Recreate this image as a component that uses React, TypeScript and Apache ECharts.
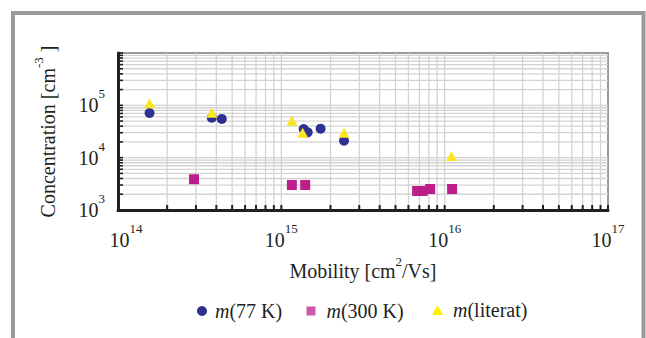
import React, { useEffect, useRef } from 'react';
import * as echarts from 'echarts';

// ---- data ----
const xTicks = [1e14, 1e15, 1e16, 1e17];
const yTicks = [1e3, 1e4, 1e5, 1e6];

const m77: number[][] = [
  [1.56e14, 7.15e4],
  [3.75e14, 5.8e4],
  [4.32e14, 5.5e4],
  [1.37e15, 3.53e4],
  [1.45e15, 3.05e4],
  [1.74e15, 3.58e4],
  [2.42e15, 2.11e4],
];
const m300: number[][] = [
  [2.92e14, 3.87e3],
  [1.16e15, 3.0e3],
  [1.4e15, 3.0e3],
  [6.78e15, 2.31e3],
  [7.33e15, 2.31e3],
  [8.15e15, 2.52e3],
  [1.11e16, 2.52e3],
];
const mLit: number[][] = [
  [1.56e14, 1.09e5],
  [3.75e14, 7.2e4],
  [1.16e15, 5.08e4],
  [1.35e15, 3.0e4],
  [2.42e15, 3.0e4],
  [1.1e16, 1.08e4],
];

const seriesNames = ['m(77 K)', 'm(300 K)', 'm(literat)'];
const legendLabels = ['(77 K)', '(300 K)', '(literat)'];

const FONT = 'Liberation Serif';
const INK = '#231f20';
const NAVY = '#2e3192';
const MAGENTA = '#be1e8c';
const MAGENTA_LEGEND = '#cc5aa6';
const YELLOW = '#fbe51c';

const multipliers = [1, 2, 3, 4, 5, 6, 7, 8, 9];
const xGridVals: number[] = [];
[1e14, 1e15, 1e16].forEach((d) => multipliers.forEach((m) => xGridVals.push(d * m)));
xGridVals.push(1e17);
const yGridVals: number[] = [];
[1e3, 1e4, 1e5].forEach((d) => multipliers.forEach((m) => yGridVals.push(d * m)));
yGridVals.push(1e6);

const exp = (v: number) => Math.round(Math.log10(v));

const legendText = (sp: number) => ({
  fontFamily: FONT,
  fontSize: 20,
  color: INK,
  rich: {
    sp: { width: sp, fontSize: 20 },
    i: { fontFamily: FONT, fontSize: 20, fontStyle: 'italic', color: INK },
    t: { fontFamily: FONT, fontSize: 20, color: INK },
  },
});

export default function App() {
  const ref = useRef<HTMLDivElement>(null);
  useEffect(() => {
    if (!ref.current) return;
    const chart = echarts.init(ref.current, null, { renderer: 'svg' });
    const xMin = xTicks[0];
    const yMin = yTicks[0];

    const option: any = {
      animation: false,
      backgroundColor: '#ffffff',
      textStyle: { fontFamily: FONT, color: INK },
      graphic: [
        {
          type: 'rect',
          silent: true,
          shape: { x: 13, y: 13, width: 630.5, height: 400 },
          style: { fill: 'none', stroke: '#9b9b9b', lineWidth: 4 },
        },
      ],
      grid: {
        left: 118,
        top: 53,
        right: 38,
        bottom: 128,
        show: true,
        borderColor: '#9a9a9a',
        borderWidth: 2,
        backgroundColor: 'transparent',
      },
      xAxis: {
        type: 'log',
        logBase: 10,
        min: xTicks[0],
        max: xTicks[xTicks.length - 1],
        z: 10,
        axisLine: { show: true, lineStyle: { color: INK, width: 3 } },
        axisTick: { show: false },
        splitLine: { show: false },
        minorTick: { show: false },
        axisLabel: {
          margin: 12,
          formatter: (v: number) => {
            const e = exp(v);
            return e === 14 ? `{b0|10}{s|${e}}` : `{b|10}{s|${e}}`;
          },
          rich: {
            b: { fontFamily: FONT, fontSize: 20, color: INK, padding: [8, 0, 0, 0] },
            b0: { fontFamily: FONT, fontSize: 20, color: INK, padding: [8, 0, 0, 16] },
            s: { fontFamily: FONT, fontSize: 13, color: INK, verticalAlign: 'top' },
          },
        },
        name: '{t|Mobility [cm}{s|2}{t|/Vs]}',
        nameLocation: 'middle',
        nameGap: 45,
        nameTextStyle: {
          rich: {
            t: { fontFamily: FONT, fontSize: 20, color: INK, padding: [6, 0, 0, 0] },
            s: { fontFamily: FONT, fontSize: 13, color: INK, verticalAlign: 'top' },
          },
        },
      },
      yAxis: {
        type: 'log',
        logBase: 10,
        min: yTicks[0],
        max: yTicks[yTicks.length - 1],
        z: 10,
        axisLine: { show: true, lineStyle: { color: INK, width: 3 } },
        axisTick: { show: false },
        splitLine: { show: false },
        minorTick: { show: false },
        axisLabel: {
          margin: 13,
          formatter: (v: number) => {
            const e = exp(v);
            if (e >= 6) return '';
            return `{b|10}{s|${e}}`;
          },
          rich: {
            b: { fontFamily: FONT, fontSize: 20, color: INK, padding: [8, 0, 8, 0] },
            s: { fontFamily: FONT, fontSize: 13, color: INK, verticalAlign: 'top' },
          },
        },
        name: '{t|Concentration [cm}{s|-3}{t| ]}',
        nameLocation: 'middle',
        nameGap: 60,
        nameTextStyle: {
          rich: {
            t: { fontFamily: FONT, fontSize: 20, color: INK, padding: [6, 0, 0, 0] },
            s: { fontFamily: FONT, fontSize: 13, color: INK, verticalAlign: 'top' },
          },
        },
      },
      legend: [
        {
          data: [{ name: seriesNames[0], icon: 'circle', itemStyle: { color: NAVY } }],
          left: 192,
          top: 296,
          itemWidth: 10,
          itemHeight: 10,
          selectedMode: false,
          formatter: () => `{sp| }{i|m}{t|${legendLabels[0]}}`,
          textStyle: legendText(3),
        },
        {
          data: [{ name: seriesNames[1], icon: 'rect', itemStyle: { color: MAGENTA_LEGEND } }],
          left: 301.5,
          top: 296,
          itemWidth: 9,
          itemHeight: 9,
          selectedMode: false,
          formatter: () => `{sp| }{i|m}{t|${legendLabels[1]}}`,
          textStyle: legendText(6),
        },
        {
          data: [{ name: seriesNames[2], icon: 'triangle', itemStyle: { color: '#fff000' } }],
          left: 427,
          top: 295,
          itemWidth: 11,
          itemHeight: 10,
          selectedMode: false,
          formatter: () => `{sp| }{i|m}{t|${legendLabels[2]}}`,
          textStyle: legendText(5),
        },
      ],
      series: [
        {
          type: 'custom',
          name: 'xgrid',
          silent: true,
          z: 1,
          data: xGridVals.map((v) => [v, yMin]),
          encode: { x: 0, y: 1 },
          renderItem: (params: any, api: any) => {
            const cs = params.coordSys;
            const p = api.coord([api.value(0), yMin]);
            const bottom = cs.y + cs.height;
            const children: any[] = [];
            if (p[0] > cs.x + 1 && p[0] < cs.x + cs.width - 1) {
              children.push({
                type: 'line',
                shape: { x1: p[0], y1: cs.y, x2: p[0], y2: bottom },
                style: { stroke: '#d3d3d3', lineWidth: 1.3 },
              });
            }
            children.push({
              type: 'line',
              shape: { x1: p[0], y1: bottom, x2: p[0], y2: bottom - 5 },
              style: { stroke: INK, lineWidth: 2 },
            });
            return { type: 'group', children };
          },
        },
        {
          type: 'custom',
          name: 'ygrid',
          silent: true,
          z: 1,
          data: yGridVals.map((v) => [xMin, v]),
          encode: { x: 0, y: 1 },
          renderItem: (params: any, api: any) => {
            const cs = params.coordSys;
            const p = api.coord([xMin, api.value(1)]);
            const children: any[] = [];
            if (p[1] > cs.y + 1 && p[1] < cs.y + cs.height - 1) {
              children.push({
                type: 'line',
                shape: { x1: cs.x, y1: p[1], x2: cs.x + cs.width, y2: p[1] },
                style: { stroke: '#d3d3d3', lineWidth: 1.3 },
              });
            }
            children.push({
              type: 'line',
              shape: { x1: cs.x, y1: p[1], x2: cs.x + 5, y2: p[1] },
              style: { stroke: INK, lineWidth: 1.6 },
            });
            return { type: 'group', children };
          },
        },
        {
          type: 'scatter',
          name: seriesNames[0],
          z: 3,
          symbol: 'circle',
          symbolSize: 10,
          itemStyle: { color: NAVY, opacity: 1 },
          data: m77,
        },
        {
          type: 'scatter',
          name: seriesNames[1],
          z: 3,
          symbol: 'rect',
          symbolSize: 10,
          itemStyle: { color: MAGENTA, opacity: 1 },
          data: m300,
        },
        {
          type: 'scatter',
          name: seriesNames[2],
          z: 4,
          symbol: 'triangle',
          symbolSize: [11, 10],
          itemStyle: { color: YELLOW, opacity: 1 },
          data: mLit,
        },
      ],
    };
    chart.setOption(option);
    return () => chart.dispose();
  }, []);

  return (
    <div
      ref={ref}
      style={{ position: 'absolute', left: 0, top: 0, width: 646, height: 338, background: '#fff' }}
    />
  );
}
